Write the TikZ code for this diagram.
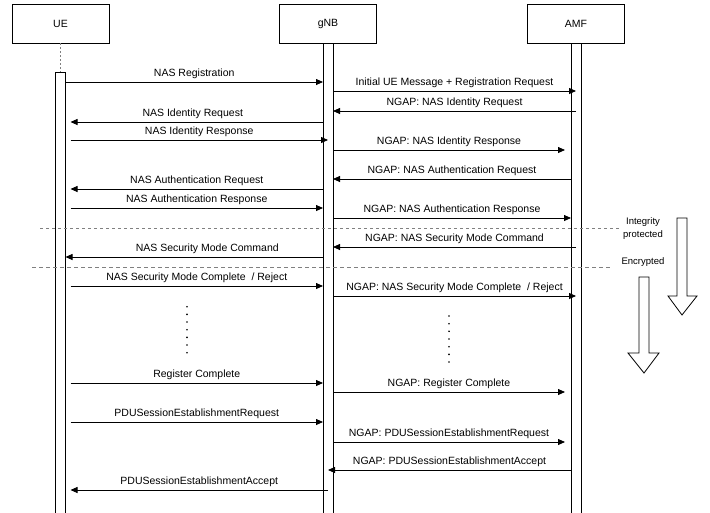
\documentclass[tikz,border=0pt]{standalone}
\usepackage{fontspec}
\setmainfont{Liberation Sans}
\usetikzlibrary{arrows.meta, positioning}

\begin{document}
\begin{tikzpicture}[
            x=1pt, y=-1pt,
            actor/.style={
                rectangle, draw=black, fill=white, line width=0.8pt,
                minimum width=97pt, minimum height=39pt, outer sep=0pt,
                font=\fontsize{10.5}{12}\selectfont
            },
            lifebar/.style={
                rectangle, draw=black, fill=white, line width=0.8pt,
                minimum width=10pt, inner sep=0pt, outer sep=0pt
            },
            msg/.style={
                draw=black, line width=0.8pt, -{Triangle[length=7pt,width=6pt]}
            },
            lbl/.style={
                above=5pt, inner sep=0pt, text depth=0pt,
                font=\fontsize{10.5}{12}\selectfont
            },
            phase/.style={draw=gray, line width=0.8pt, dash pattern=on 3pt off 3pt},
            note/.style={align=center, font=\fontsize{9.5}{13}\selectfont},
            hollow/.style={draw=black, fill=white, line width=0.8pt, line join=miter}
        ]
            \fill[white] (0,0) rectangle (710,512);
            \useasboundingbox (0,0) rectangle (710,512);

            \node[actor] (ue) at (60.5,23.5) {UE};
            \node[actor] (gnb) at (328,23.5) {gNB};
            \node[actor] (amf) at (576,23.5) {AMF};

            \node[lifebar, minimum height=443pt, below=29pt of ue] (uebar) {};
            \node[lifebar, minimum height=472pt, below=0pt of gnb] (gnbbar) {};
            \node[lifebar, minimum height=472pt, below=0pt of amf] (amfbar) {};
            \draw[gray, line width=0.8pt, dash pattern=on 2pt off 2pt] (ue.south) -- (uebar.north);

            \coordinate (uein) at ([xshift=5pt]uebar.east);
            \coordinate (amfin) at ([xshift=-6pt]amfbar.west);

            \draw[phase] (40,228) -- (619,228);
            \draw[phase, dash pattern=on 4pt off 3pt] (32,267) -- (612,267);
            \node[note] (integ) at (643,228.5) {Integrity\\protected};
            \node[note] (encr) at (643,262) {Encrypted};

            \draw[msg] (uebar.east |- 0,82) -- node[lbl] {NAS Registration} (gnbbar.west |- 0,82);
            \draw[msg] (gnbbar.east |- 0,91) -- node[lbl] {Initial UE Message + Registration Request} (amfbar |- 0,91);
            \draw[msg] (amfbar |- 0,111) -- node[lbl] {NGAP: NAS Identity Request} (gnbbar.east |- 0,111);
            \draw[msg] (gnbbar.west |- 0,122) -- node[lbl, xshift=-4pt] {NAS Identity Request} (uein |- 0,122);
            \draw[msg] (uein |- 0,140) -- node[lbl] {NAS Identity Response} (gnbbar |- 0,140);
            \draw[msg] (gnbbar.east |- 0,150) -- node[lbl] {NGAP: NAS Identity Response} (amfin |- 0,150);
            \draw[msg] (amfbar.west |- 0,179) -- node[lbl] {NGAP: NAS Authentication Request} (gnbbar.east |- 0,179);
            \draw[msg] (gnbbar.west |- 0,189) -- node[lbl] {NAS Authentication Request} (uein |- 0,189);
            \draw[msg] (uein |- 0,208) -- node[lbl] {NAS Authentication Response} (gnbbar.west |- 0,208);
            \draw[msg] (gnbbar.east |- 0,218) -- node[lbl] {NGAP: NAS Authentication Response} (amfbar.west |- 0,218);
            \draw[msg] (amfbar |- 0,247) -- node[lbl] {NGAP: NAS Security Mode Command} (gnbbar.east |- 0,247);
            \draw[msg] (gnbbar.west |- 0,257) -- node[lbl, xshift=13pt] {NAS Security Mode Command} (uebar.east |- 0,257);
            \draw[msg] (uein |- 0,286) -- node[lbl] {NAS Security Mode Complete~ / Reject} (gnbbar.west |- 0,286);
            \draw[msg] (gnbbar.east |- 0,296) -- node[lbl] {NGAP: NAS Security Mode Complete~ / Reject} (amfbar |- 0,296);
            \draw[msg] (uein |- 0,383) -- node[lbl] {Register Complete} (gnbbar.west |- 0,383);
            \draw[msg] (gnbbar.east |- 0,392) -- node[lbl] {NGAP: Register Complete} (amfin |- 0,392);
            \draw[msg] (uein |- 0,422) -- node[lbl] {PDUSessionEstablishmentRequest} (gnbbar.west |- 0,422);
            \draw[msg] (gnbbar.east |- 0,442) -- node[lbl] {NGAP: PDUSessionEstablishmentRequest} (amfin |- 0,442);
            \draw[msg] (amfbar.west |- 0,470) -- node[lbl] {NGAP: PDUSessionEstablishmentAccept} (gnbbar |- 0,470);
            \draw[msg] (gnbbar |- 0,490) -- node[lbl] {PDUSessionEstablishmentAccept} (uein |- 0,490);

            \foreach \k in {0,...,6} {
                \fill (187,306.7+7.67*\k) circle (0.9pt);
                \fill (449,316+7.67*\k) circle (0.9pt);
            }

            \draw[hollow] (677,218) -- (687,218) -- (687,296) -- (697,296) -- (682,315)
                -- (668,296) -- (677,296) -- cycle;
            \draw[hollow] (639,277) -- (649,277) -- (649,353) -- (659,353) -- (644,373)
                -- (628,353) -- (639,353) -- cycle;
        \end{tikzpicture}
\end{document}
